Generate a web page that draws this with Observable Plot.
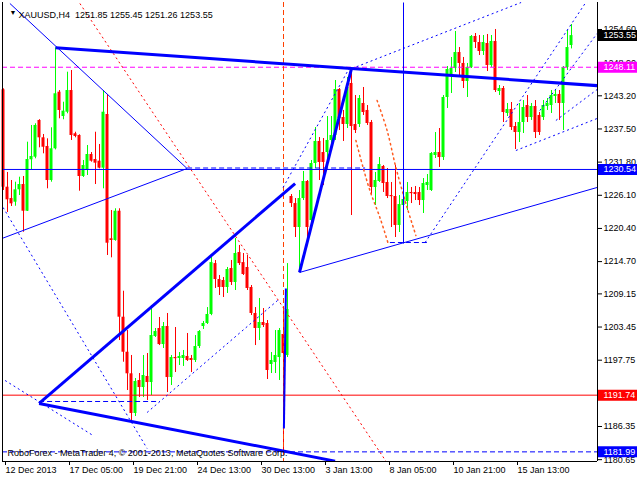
<!DOCTYPE html>
<html><head><meta charset="utf-8">
<script src="https://cdn.jsdelivr.net/npm/d3@7"></script>
<script src="https://cdn.jsdelivr.net/npm/@observablehq/plot@0.6"></script>
<style>body{margin:0;background:#fff} svg{display:block}</style>
</head><body><div id="chart"></div>
<script>
// XAUUSD H4 candles (bar index 0 = first visible bar)
const openP = [1244.23,1227.49,1225.54,1224.91,1227.04,1227.95,1223.36,1232.20,1232.65,1238.96,
1235.98,1234.49,1228.64,1234.09,1243.82,1239.64,1240.38,1244.11,1236.67,1236.38,
1229.33,1230.36,1233.11,1232.25,1231.96,1230.76,1239.99,1218.62,1218.33,1223.36,
1205.14,1199.12,1195.41,1188.59,1194.26,1193.05,1194.95,1193.91,1201.82,1203.20,
1200.44,1203.54,1194.77,1198.21,1198.04,1198.04,1198.39,1198.04,1197.70,1200.10,
1203.54,1204.06,1205.61,1214.36,1211.62,1211.45,1210.25,1213.51,1211.11,1216.26,
1214.53,1213.69,1210.25,1205.78,1203.20,1204.23,1204.06,1197.01,1197.35,1198.21,
1202.17,1198.56,1225.89,1224.68,1220.56,1225.54,1228.47,1221.76,1231.56,1235.35,
1233.45,1233.45,1235.52,1236.38,1244.28,1239.47,1238.27,1245.32,1238.27,1238.27,
1241.88,1240.68,1238.61,1227.44,1228.47,1231.05,1228.30,1226.06,1225.89,1220.91,
1224.34,1225.03,1226.58,1226.58,1226.58,1225.20,1227.78,1226.92,1232.94,1233.45,
1232.59,1242.91,1246.69,1247.89,1250.64,1248.76,1245.66,1248.07,1253.40,1252.36,
1250.82,1252.19,1248.41,1252.54,1243.94,1244.46,1240.16,1240.85,1237.92,1236.89,
1238.61,1241.53,1239.47,1241.36,1239.82,1239.47,1241.36,1241.53,1243.08,1243.43,
1241.88,1248.07,1251.85];
const highP = [1244.40,1230.02,1228.64,1228.35,1229.21,1229.33,1235.23,1238.10,1238.39,1239.10,
1236.55,1235.81,1237.70,1251.45,1244.11,1242.10,1247.26,1247.55,1236.94,1236.50,
1232.08,1234.66,1233.45,1236.94,1234.83,1244.11,1243.43,1223.48,1223.78,1223.78,
1209.61,1202.85,1198.56,1194.60,1195.46,1198.56,1198.90,1207.15,1203.20,1205.09,
1204.23,1205.78,1198.56,1203.37,1199.07,1199.42,1202.34,1198.56,1201.99,1202.85,
1204.40,1206.80,1215.58,1214.89,1212.31,1211.96,1213.69,1214.89,1218.67,1217.47,
1216.09,1215.75,1210.59,1206.80,1208.36,1206.63,1204.57,1199.07,1202.85,1203.20,
1206.63,1214.36,1226.23,1225.54,1226.92,1230.19,1228.64,1232.08,1237.75,1236.03,
1235.86,1239.64,1239.64,1245.83,1244.46,1240.68,1246.35,1247.89,1243.25,1243.25,
1244.63,1241.53,1238.96,1230.02,1232.59,1231.22,1230.70,1228.30,1231.22,1226.06,
1228.30,1228.30,1227.44,1227.61,1227.44,1228.98,1229.67,1233.45,1236.89,1237.58,
1243.25,1248.24,1249.79,1254.26,1251.50,1249.79,1248.76,1253.57,1253.91,1253.57,
1253.57,1253.74,1253.57,1254.60,1244.97,1244.80,1241.88,1242.05,1238.61,1241.88,
1242.39,1243.25,1241.88,1242.39,1240.33,1242.39,1242.74,1244.11,1244.11,1244.11,
1248.24,1254.43,1255.45];
const lowP = [1226.92,1223.14,1224.17,1224.22,1226.06,1219.75,1223.31,1230.48,1232.37,1234.26,
1233.23,1227.21,1228.35,1233.90,1239.25,1239.08,1240.11,1235.52,1235.98,1226.80,
1229.16,1229.50,1231.79,1227.95,1230.65,1227.21,1215.75,1215.35,1218.20,1201.13,
1197.40,1192.54,1186.87,1188.07,1191.33,1191.33,1190.82,1191.68,1201.65,1200.27,
1199.76,1192.19,1193.40,1195.63,1196.84,1196.67,1197.53,1195.63,1197.35,1199.76,
1203.03,1203.89,1205.40,1210.08,1208.87,1208.53,1209.22,1210.59,1209.73,1214.03,
1212.31,1209.73,1205.43,1200.27,1201.13,1203.37,1194.43,1195.46,1195.46,1194.26,
1181.99,1198.21,1224.00,1218.84,1212.83,1225.20,1218.84,1220.91,1230.70,1228.64,
1227.78,1232.08,1233.80,1235.52,1237.24,1235.35,1237.58,1222.62,1236.72,1237.75,
1239.82,1238.10,1226.06,1224.34,1228.30,1226.58,1225.54,1220.56,1218.84,1219.70,
1217.81,1223.48,1224.68,1225.20,1224.34,1222.97,1226.92,1226.75,1232.42,1230.88,
1232.08,1241.02,1243.60,1247.21,1246.69,1244.46,1242.91,1247.89,1251.33,1250.13,
1250.13,1247.38,1248.07,1243.77,1243.25,1238.61,1239.64,1237.24,1233.97,1235.17,
1236.72,1238.61,1238.96,1235.86,1236.38,1238.96,1240.68,1240.16,1241.88,1238.96,
1237.24,1247.55,1251.26];
const closeP = [1227.49,1225.32,1224.63,1227.04,1227.95,1223.36,1232.25,1232.77,1238.10,1235.98,
1234.36,1228.64,1234.09,1243.55,1240.68,1240.56,1244.11,1236.38,1236.21,1229.33,
1231.22,1233.11,1231.96,1231.62,1230.76,1240.38,1217.86,1218.33,1223.36,1205.14,
1199.12,1195.41,1188.59,1194.09,1193.05,1195.12,1193.91,1201.99,1202.68,1200.44,
1203.54,1194.77,1198.21,1198.04,1198.39,1198.56,1197.70,1197.70,1200.10,1202.68,
1204.06,1205.61,1214.53,1211.62,1210.25,1210.25,1213.34,1211.11,1216.09,1214.36,
1212.48,1210.08,1205.78,1203.20,1204.23,1203.71,1195.98,1197.70,1198.56,1202.85,
1198.90,1206.46,1224.68,1220.56,1225.54,1228.47,1220.56,1231.56,1235.35,1231.74,
1231.74,1235.52,1236.38,1244.28,1239.30,1238.27,1244.63,1237.92,1237.24,1242.74,
1240.33,1238.44,1227.44,1228.64,1231.39,1228.12,1225.89,1225.89,1220.91,1224.51,
1225.37,1226.58,1226.40,1226.23,1225.20,1228.12,1228.30,1233.28,1233.45,1232.59,
1242.91,1247.72,1247.89,1250.64,1248.76,1245.66,1248.07,1253.40,1252.36,1250.82,
1252.36,1248.41,1252.54,1244.11,1244.46,1240.33,1240.85,1237.75,1236.89,1238.61,
1241.19,1239.47,1241.36,1236.89,1236.89,1241.53,1241.88,1243.25,1243.43,1241.88,
1248.07,1251.50,1253.55];

// axis ticks
const timeTicks = [0,16,32,48,64,80,96,112,128];
const timeLabels = ["12 Dec 2013","17 Dec 05:00","19 Dec 21:00","24 Dec 13:00","30 Dec 13:00","3 Jan 13:00","8 Jan 05:00","10 Jan 21:00","15 Jan 13:00"];
const priceTicks = [1254.60,1248.90,1243.20,1237.50,1231.80,1226.10,1220.40,1214.70,1209.15,1203.45,1197.75,1192.05,1186.35,1180.65];
const hiddenTickLabels = [1192.05]; // fully covered by the 1191.74 box in the reference

// horizontal price levels
const levelPrices = [1253.55,1248.11,1230.54,1191.74,1181.99];
const levelKinds  = ["bid","magenta","blue","red","bluedash"];

// trendline anchors: [bar1, price1, bar2, price2]
const thickLines = [[13,1251.45,148.4,1244.95],[8.9,1190.31,82.9,1180.40],[8.9,1190.31,72.9,1228.12],[74,1212.83,87,1247.89]];
const mediumLines = [[70.1,1186.01,70.6,1210.08]];
const thinLines = [[1.6,1259.07,45.9,1230.70],[-0.4,1218.67,45.9,1230.70],[74,1212.83,148.4,1227.44],[100,1217.81,100,1259.24]];
const dashedLines = [[45.9,1230.79,90.4,1230.79],[96.6,1217.98,105.9,1217.98],[8.9,1190.65,39.1,1190.65]];
const dottedBlue = [[-0.1,1224.0,35.9,1182.57],[0.4,1194.26,22.4,1184.80],[35.9,1188.76,69.1,1208.36],
  [69.9,1227.44,86.4,1247.89],[87.1,1247.89,129.4,1259.24],
  [105.4,1217.98,145.4,1259.07],[128.1,1233.80,148.4,1239.30],[134.1,1240.68,148.4,1253.91],[138.1,1238.96,148.4,1244.28]];
const dottedRed = [[19.1,1259.07,95.6,1180.40]];
// Fibonacci-style arcs: bar positions and prices of read points
const arcOuterBar = [93.4,95.9,98.1,100.9,103.1];
const arcOuterPrice = [1242.39,1237.24,1230.88,1224.00,1219.19];
const arcInnerBar = [88.1,89.9,91.6,94.1,96.1];
const arcInnerPrice = [1235.52,1230.88,1226.92,1222.28,1217.98];
const vLineBar = [70];

const UP = "#00ff00", DOWN = "#ff0000", BLUE = "#0000ff";
const bars = openP.map((o,i) => ({i, o, h: highP[i], l: lowP[i], c: closeP[i]}));
const seg = a => a.map(([x1,y1,x2,y2]) => ({x1,y1,x2,y2}));
const levelColor = {bid:"#000000", magenta:"#ff00ff", blue:BLUE, red:"#ff0000", bluedash:BLUE};
const levels = levelPrices.map((p,k) => ({p, kind: levelKinds[k]}));
const arcs = [
  ...arcOuterBar.map((b,k) => ({arc: "outer", b, p: arcOuterPrice[k]})),
  ...arcInnerBar.map((b,k) => ({arc: "inner", b, p: arcInnerPrice[k]}))
];

const yMin = 1180.335, yMax = 1259.241;
const lk = {x1:"x1",y1:"y1",x2:"x2",y2:"y2"};
const plot = Plot.plot({
  width: 640, height: 480,
  marginLeft: 2, marginRight: 43, marginTop: 2, marginBottom: 19,
  x: {domain: [-0.25, 148.5], axis: null},
  y: {domain: [yMin, yMax], axis: null},
  style: {fontFamily: "'Liberation Sans', Arial, sans-serif", fontSize: "9px", background: "#fff", color: "#000"},
  marks: [
    // candles
    Plot.ruleX(bars, {x: "i", y1: "l", y2: "h", stroke: d => d.c >= d.o ? UP : DOWN}),
    Plot.rect(bars, {x1: d => d.i - 0.375, x2: d => d.i + 0.375, y1: "o",
      y2: d => Math.abs(d.c - d.o) < 0.2 ? d.o - 0.2 : d.c, fill: d => d.c >= d.o ? UP : DOWN}),
    // horizontal levels
    Plot.ruleY(levels.filter(d => d.kind === "magenta"), {y: "p", stroke: "#ff00ff", strokeDasharray: "5,3"}),
    Plot.ruleY(levels.filter(d => d.kind === "blue"), {y: "p", stroke: BLUE}),
    Plot.ruleY(levels.filter(d => d.kind === "red"), {y: "p", stroke: "#ff0000"}),
    Plot.ruleY(levels.filter(d => d.kind === "bluedash"), {y: "p", stroke: BLUE, strokeDasharray: "5,3"}),
    Plot.ruleX(vLineBar, {x: d => d, stroke: "#ff4000", strokeDasharray: "5,3"}),
    // drawn objects
    Plot.link(seg(dottedRed), {...lk, stroke: "#ff0000", strokeDasharray: "2,3", clip: true}),
    Plot.line(arcs, {x: "b", y: "p", z: "arc", stroke: "#ff5a1e", strokeDasharray: "1.5,3.5", curve: "catmull-rom"}),
    Plot.link(seg(dottedBlue), {...lk, stroke: BLUE, strokeDasharray: "2,3", clip: true}),
    Plot.link(seg(dashedLines), {...lk, stroke: BLUE, strokeDasharray: "5,3"}),
    Plot.link(seg(thinLines), {...lk, stroke: BLUE, clip: true}),
    Plot.link(seg(mediumLines), {...lk, stroke: BLUE, strokeWidth: 2}),
    Plot.link(seg(thickLines), {...lk, stroke: BLUE, strokeWidth: 3, clip: true}),
    // frame
    Plot.ruleX([-0.25, 148.5], {stroke: "#000"}),
    Plot.ruleY([yMin], {stroke: "#000"}),
    // axes
    Plot.axisY({anchor: "right", ticks: priceTicks, tickFormat: d => hiddenTickLabels.includes(d) ? "" : d.toFixed(2), tickSize: 4, tickPadding: 2, fill: "#000"}),
    Plot.axisX({anchor: "bottom", ticks: timeTicks, tickFormat: d => timeLabels[timeTicks.indexOf(d)], tickSize: 4, tickPadding: 1, textAnchor: "start", dx: 2, fill: "#000"}),
    // price labels on the axis
    Plot.ruleY(levels, {y: "p", stroke: d => levelColor[d.kind], strokeWidth: 11, insetLeft: 596, insetRight: -40}),
    Plot.text(levels, {y: "p", text: d => d.p.toFixed(2), frameAnchor: "right", dx: 6, textAnchor: "start", fill: "#fff"}),
    // title and caption
    Plot.text(["XAUUSD,H4  1251.85 1255.45 1251.26 1253.55"], {frameAnchor: "top-left", dx: 16, dy: 9, textAnchor: "start", fill: "#000"}),
    Plot.text(["\u25BC"], {frameAnchor: "top-left", dx: 7, dy: 8, fontSize: 7, fill: "#000"}),
    Plot.text(["RoboForex - MetaTrader 4, \u00A9 2001-2013, MetaQuotes Software Corp."], {frameAnchor: "bottom-left", dx: 5, dy: -6, textAnchor: "start", fill: "#000"})
  ]
});
document.getElementById("chart").appendChild(plot);
</script>
</body></html>
